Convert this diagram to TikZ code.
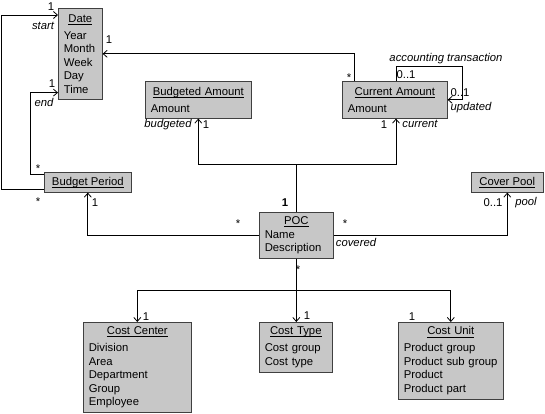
\documentclass[tikz,border=0pt]{standalone}
\usepackage{fontspec}
\setmainfont{Liberation Sans}
\usetikzlibrary{arrows.meta,positioning}
\newcommand{\figfont}{\fontsize{11.3}{13.5}\selectfont}
\newcommand{\titleul}[1]{\setbox0\hbox{#1}\rlap{\rule[-2.2pt]{\wd0}{0.6pt}}\box0}
\newcommand{\classtext}[3][3.5pt]{\centerline{\titleul{#2}}\par\vspace{#1}\noindent #3}

\begin{document}
\begin{tikzpicture}[x=1pt, y=-1pt, >={Straight Barb[length=4pt,width=7pt]},
                    line width=0.8pt, every node/.style={font=\figfont}]
  \tikzstyle{class}=[draw=black!75, fill=black!22, line width=0.6pt, anchor=north west,
                     inner xsep=5.5pt, inner ysep=0pt, align=left]
  \tikzstyle{classone}=[class, align=center, inner xsep=0pt, minimum height=20pt]
  \tikzstyle{mult}=[anchor=base, inner sep=0pt]
  \tikzstyle{role}=[mult, font=\figfont\itshape]

  \useasboundingbox (0,0) rectangle (545,413);

  % classes
  \node[class, text width=33pt, minimum height=91pt] (date) at (58,8)
    {\classtext{Date}{Year\\Month\\Week\\Day\\Time}};
  \node[classone, minimum width=87pt] (period) at (44,172) {\titleul{Budget Period}};
  \node[class, text width=95pt, minimum height=37pt] (budgeted) at (145,81)
    {\classtext{Budgeted Amount}{Amount}};
  \node[class, text width=94pt, minimum height=37pt] (current) at (342,81)
    {\classtext{Current Amount}{Amount}};
  \node[classone, minimum width=72pt] (cover) at (471,172) {\titleul{Cover Pool}};
  \node[class, text width=63pt, minimum height=46pt] (poc) at (259,212)
    {\classtext[0pt]{POC}{Name\\Description}};
  \node[class, text width=97pt, minimum height=90pt] (center) at (83,322)
    {\classtext{Cost Center}{Division\\Area\\Department\\Group\\Employee}};
  \node[class, text width=62pt, minimum height=50pt] (type) at (259,322)
    {\classtext{Cost Type}{Cost group\\Cost type}};
  \node[class, text width=94pt, minimum height=77pt] (unit) at (398,322)
    {\classtext{Cost Unit}{Product group\\Product sub group\\Product\\Product part}};

  % budget period -- date
  \draw[->] ([yshift=3pt]period.south west) -- ++(-43,0) |- ([yshift=-7pt]date.north west);
  \draw[->] ([yshift=-2pt]period.north west) -- ++(-14,0) |- ([yshift=7pt]date.south west);
  \node[mult] (startone) at (51,10) {1};
  \node[role] (startrole) at (43,29) {start};
  \node[mult] (startmany) at (38,205.5) {*};
  \node[mult] (endone) at (52,87) {1};
  \node[role] (endrole) at (44,106) {end};
  \node[mult] (endmany) at (38,172.5) {*};

  % current amount -- date, and its self loop
  \draw[->] ([xshift=12pt]current.north west) |- (date.east);
  \node[mult] (dateone) at (109,43) {1};
  \node[mult] (datemany) at (349,81.5) {*};
  \draw[->] ([xshift=54pt]current.north west) -- ++(0,-15) -| ([xshift=15pt]current.east)
    -- (current.east);
  \node[role] (looprole) at (446,61) {accounting transaction};
  \node[mult] (looptop) at (406,78) {0..1};
  \node[mult] (loopside) at (460,96) {0..1};
  \node[role] (updrole) at (471,110) {updated};

  % poc -- amounts
  \coordinate (up) at ([yshift=48pt]poc.north);
  \draw[line width=1.4pt] (poc.north) -- (up);
  \draw[->] (up) -| (budgeted.south);
  \draw[->] (up) -| ([xshift=54pt]current.south west);
  \node[mult, font=\figfont\bfseries] (pocone) at (285,206) {1};
  \node[role] (budrole) at (168,127) {budgeted};
  \node[mult] (budone) at (206,128) {1};
  \node[mult] (curone) at (384,128) {1};
  \node[role] (currole) at (420,127.5) {current};

  % poc -- budget period, cover pool
  \draw[->] (poc.west) -| (period.south);
  \draw[->] (poc.east) -| (cover.south);
  \node[mult] (periodone) at (95,206) {1};
  \node[mult] (periodmany) at (238,227.5) {*};
  \node[mult] (covermany) at (345,227.5) {*};
  \node[role] (covrole) at (356,246) {covered};
  \node[mult] (poolone) at (493,206) {0..1};
  \node[role] (poolrole) at (526,205) {pool};

  % poc -- cost objects
  \coordinate (down) at ([yshift=-32pt]poc.south);
  \draw (poc.south) -- (down);
  \draw[->] (down) -| (center.north);
  \draw[->] (down) -- (down |- type.north);
  \draw[->] (down) -| (unit.north);
  \node[mult] (pocmany) at (298,273.5) {*};
  \node[mult] (centerone) at (146,320) {1};
  \node[mult] (typeone) at (307,319) {1};
  \node[mult] (unitone) at (412,320) {1};
\end{tikzpicture}
\end{document}
